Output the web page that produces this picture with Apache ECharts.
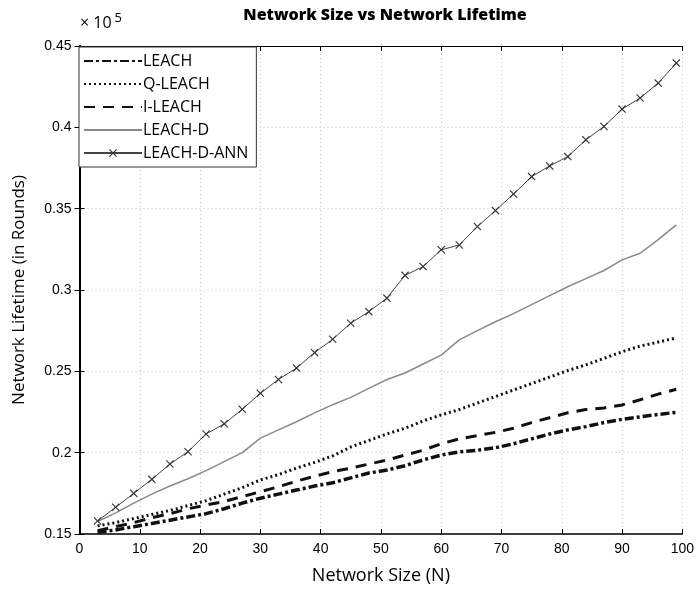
<!DOCTYPE html>
<html>
<head>
<meta charset="utf-8">
<script src="https://cdn.jsdelivr.net/npm/echarts@6/dist/echarts.min.js"></script>
<style>html,body{margin:0;padding:0;background:#fff;}#c{width:697px;height:591px;}</style>
</head>
<body>
<div id="c"></div>
<script>
var networkSize = [3,6,9,12,15,18,21,24,27,30,33,36,39,42,45,48,51,54,57,60,63,66,69,72,75,78,81,84,87,90,93,96,99];
var leach = [0.151,0.1525,0.1545,0.1565,0.1585,0.1605,0.1625,0.1655,0.169,0.172,0.1745,0.177,0.1795,0.1815,0.1845,0.1875,0.1893,0.192,0.1955,0.1985,0.2005,0.2015,0.203,0.2055,0.2085,0.2115,0.214,0.216,0.2185,0.2205,0.222,0.2235,0.2248];
var qLeach = [0.155,0.157,0.1595,0.162,0.1645,0.1675,0.1705,0.1745,0.1785,0.1832,0.1865,0.1905,0.194,0.198,0.2035,0.2075,0.2115,0.215,0.2195,0.2232,0.2265,0.2305,0.2345,0.2385,0.2425,0.2465,0.2505,0.254,0.258,0.262,0.2655,0.268,0.2705];
var iLeach = [0.152,0.1545,0.157,0.16,0.1625,0.1655,0.1678,0.17,0.173,0.176,0.179,0.1825,0.1855,0.1883,0.1905,0.193,0.1955,0.1985,0.2015,0.2055,0.2085,0.2105,0.2125,0.215,0.2185,0.2215,0.2245,0.2265,0.2275,0.2293,0.2325,0.236,0.239];
var leachD = [0.1576,0.163,0.169,0.1745,0.1795,0.184,0.189,0.1945,0.2,0.2089,0.214,0.219,0.2245,0.2295,0.234,0.2395,0.245,0.249,0.2545,0.26,0.2693,0.275,0.2805,0.2855,0.291,0.2965,0.302,0.307,0.312,0.3185,0.3226,0.331,0.34];
var leachDAnn = [0.158,0.1664,0.175,0.1836,0.193,0.2006,0.2115,0.2177,0.2267,0.2365,0.245,0.252,0.2615,0.2697,0.2796,0.2867,0.295,0.309,0.3144,0.3247,0.3277,0.339,0.3488,0.359,0.3697,0.3763,0.382,0.3923,0.4005,0.4112,0.418,0.4272,0.4395];
var seriesNames = ['LEACH','Q-LEACH','I-LEACH','LEACH-D','LEACH-D-ANN'];

function pairs(ys){ return networkSize.map(function(x,i){ return [x, ys[i]]; }); }
var FONT = 'Liberation Sans, Arial, sans-serif';
var WIDE = '"Open Sans", Liberation Sans, sans-serif';
var chart = echarts.init(document.getElementById('c'));
var xMark = 'path://M0,1L1,0L5,4L9,0L10,1L6,5L10,9L9,10L5,6L1,10L0,9L4,5Z';
var gridLine = {show:true, lineStyle:{color:'#c8c8c8', type:[1,3], width:1}};
chart.setOption({
  animation:false,
  backgroundColor:'#fff',
  title:{text:'Network Size vs Network Lifetime', left:380, top:2, textAlign:'center',
    textStyle:{fontFamily:WIDE, fontWeight:800, fontSize:16, color:'#000'}},
  graphic:[{type:'text', left:80, top:12, style:{text:'× 10{s|5}', rich:{s:{fontSize:13, verticalAlign:'top', padding:[0,0,9,3], fontFamily:WIDE}}, font:'16px '+WIDE, fill:'#000'}}],
  legend:{orient:'vertical', left:79, top:47, itemWidth:58, itemHeight:10, itemGap:7,
    padding:[6,8,6,4], borderColor:'#333', borderWidth:1, backgroundColor:'#fff',
    textStyle:{fontFamily:WIDE, fontSize:16, color:'#000', padding:[0,0,0,-4]},
    data:seriesNames.map(function(n, i){
      return i < 4 ? {name:n, itemStyle:{opacity:0}} : {name:n};
    })},
  grid:{left:79.5, right:14, top:46, bottom:57},
  xAxis:[{type:'value', min:0, max:100, interval:10, name:'Network Size (N)', nameLocation:'middle', nameGap:33,
    nameTextStyle:{fontFamily:WIDE, fontSize:18, color:'#000'},
    axisLine:{lineStyle:{color:'#000', width:1.5}}, axisTick:{inside:true, length:5, lineStyle:{color:'#000'}},
    axisLabel:{fontFamily:FONT, fontSize:14, color:'#000', margin:8}, splitLine:gridLine},
    {type:'value', position:'top', min:0, max:100, interval:10,
    axisLine:{show:true, lineStyle:{color:'#000'}}, axisTick:{inside:true, length:5, lineStyle:{color:'#000'}},
    axisLabel:{show:false}, splitLine:{show:false}}],
  yAxis:[{type:'value', min:0.15, max:0.45, interval:0.05, name:'Network Lifetime (in Rounds)', nameLocation:'middle', nameGap:52,
    nameTextStyle:{fontFamily:WIDE, fontSize:17, color:'#000'},
    axisLine:{show:true, lineStyle:{color:'#000', width:1.5}}, axisTick:{show:true, inside:true, length:5, lineStyle:{color:'#000'}},
    axisLabel:{fontFamily:FONT, fontSize:14, color:'#000', margin:8, formatter:function(v){return String(parseFloat(v.toFixed(2)));}},
    splitLine:gridLine},
    {type:'value', position:'right', min:0.15, max:0.45, interval:0.05,
    axisLine:{show:true, lineStyle:{color:'#000', width:2}}, axisTick:{show:true, inside:true, length:5, lineStyle:{color:'#000'}},
    axisLabel:{show:false}, splitLine:{show:false}}],
  series:[
    {name:'LEACH', type:'line', data:pairs(leach), showSymbol:false, symbol:'none',
      lineStyle:{color:'#111', width:3.5, type:[9,3,3,3]}, itemStyle:{color:'#111'}},
    {name:'Q-LEACH', type:'line', data:pairs(qLeach), showSymbol:false, symbol:'none',
      lineStyle:{color:'#111', width:3, type:[2,3]}, itemStyle:{color:'#111'}},
    {name:'I-LEACH', type:'line', data:pairs(iLeach), showSymbol:false, symbol:'none',
      lineStyle:{color:'#111', width:3, type:[11,8]}, itemStyle:{color:'#111'}},
    {name:'LEACH-D', type:'line', data:pairs(leachD), showSymbol:false, symbol:'none',
      lineStyle:{color:'#8a8a8a', width:1.5}, itemStyle:{color:'#8a8a8a'}},
    {name:'LEACH-D-ANN', type:'line', data:pairs(leachDAnn), symbol:xMark, symbolSize:8,
      lineStyle:{color:'#444', width:1}, itemStyle:{color:'#333'}}
  ]
});
</script>
</body>
</html>
